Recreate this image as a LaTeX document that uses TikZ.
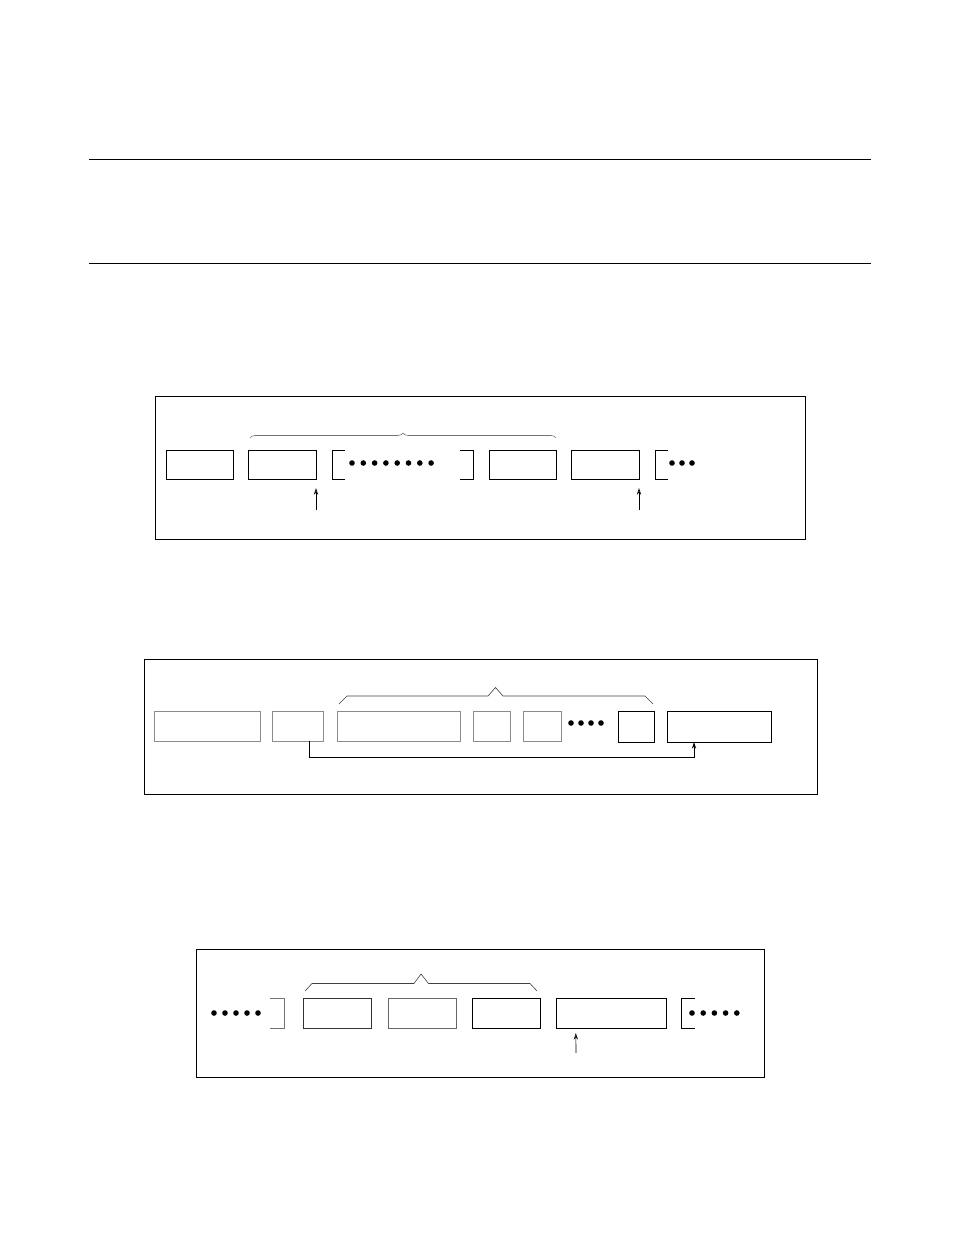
\documentclass[tikz,border=0pt]{standalone}
\usetikzlibrary{decorations.pathreplacing,arrows.meta,calc}
\tikzset{
  boxst/.style={draw, line width=0.65pt, inner sep=0pt, outer sep=0pt},
  graybox/.style={draw=black!45},
  frame/.style={draw, line width=0.65pt},
  rule/.style={line width=0.55pt},
  brk/.style={line width=0.65pt},
  dotst/.style={fill=black},
  ptr/.style={line width=0.5pt, -{Stealth[length=5pt,width=3.2pt,open]}},
  bracest/.style={line width=0.45pt, black!55},
}
\newcommand\mybox[6][]{\node[boxst,#1,minimum width={(#5-#3)*0.75pt},minimum height={(#6-#4)*0.75pt}] (#2) at ({(#3+#5)/2},{(#4+#6)/2}) {};}
\newcommand\dotrow[4]{\foreach \k in {1,...,#3}{\fill[dotst] ({#1+(\k-1)*#4},#2) circle (2.8);}}
\begin{document}
\begin{tikzpicture}[x=0.75pt,y=-0.75pt]
\useasboundingbox (0,0) rectangle (954,1235);
% top rules
\draw[rule] (89,159) -- (871,159);
\draw[rule] (89,263) -- (871,263);

% ---------- panel 1 ----------
\draw[frame] (155,396) rectangle (805,539);
\mybox{p1a}{166}{450}{233}{479}
\mybox{p1b}{248}{450}{316}{479}
\mybox{p1c}{489}{450}{556}{479}
\mybox{p1d}{571}{450}{639}{479}
\draw[brk] (345,450) -- (332,450) -- (332,479) -- (345,479);
\draw[brk] (460,450) -- (473,450) -- (473,479) -- (460,479);
\dotrow{352}{463}{8}{11.3}
\draw[brk] (668,450) -- (655,450) -- (655,479) -- (668,479);
\dotrow{672}{463}{3}{10}
\coordinate (a1) at (316,510);
\coordinate (a2) at (639,510);
\draw[ptr] (a1) -- ($(p1b.south east)+(0,9)$);
\draw[ptr] (a2) -- ($(p1d.south east)+(0,9)$);
\draw[bracest, decorate, decoration={brace, amplitude=3.8pt}] (250,438) -- (556,438);

% ---------- panel 2 ----------
\draw[frame] (144,659) rectangle (817,794);
\mybox[graybox]{p2a}{154}{711}{260}{741}
\mybox[graybox]{p2b}{272}{711}{323}{741}
\mybox[graybox]{p2c}{337}{711}{460}{741}
\mybox[graybox]{p2d}{473}{711}{510}{741}
\mybox[graybox]{p2e}{523}{711}{561}{741}
\dotrow{571}{723}{4}{10}
\mybox{p2f}{618}{711}{654}{742}
\mybox{p2g}{667}{711}{771}{742}
\draw[line width=0.6pt, -{Stealth[length=5pt,width=3.2pt,open]}] ($(p2b.south west)!0.73!(p2b.south east)$) -- ++(0,16) -| ($(p2g.south west)!0.26!(p2g.south east)$);
\draw[bracest, black!75] (339,704) -- (347,696) -- (488,696) -- (495.5,687.5) -- (503,696) -- (645,696) -- (653,704);

% ---------- panel 3 ----------
\draw[frame] (196,949) rectangle (764,1077);
\dotrow{214}{1013}{5}{11}
\draw[brk, black!55] (270,998) -- (284,998) -- (284,1028) -- (270,1028);
\mybox[draw=black!80]{p3a}{303}{998}{371}{1028}
\mybox[draw=black!60]{p3b}{388}{998}{456}{1028}
\mybox{p3c}{472}{998}{540}{1028}
\mybox{p3d}{556}{998}{666}{1028}
\draw[brk] (695,998) -- (681,998) -- (681,1028) -- (695,1028);
\dotrow{692}{1013}{5}{11.2}
\coordinate (a3) at (576,1053);
\draw[ptr] (a3) -- ($(p3d.south west)!0.18!(p3d.south east)+(0,5)$);
\draw[bracest, black!75] (305,991) -- (312,983.5) -- (414,983.5) -- (421,974) -- (428.5,983.5) -- (530,983.5) -- (537,991);
\end{tikzpicture}
\end{document}
